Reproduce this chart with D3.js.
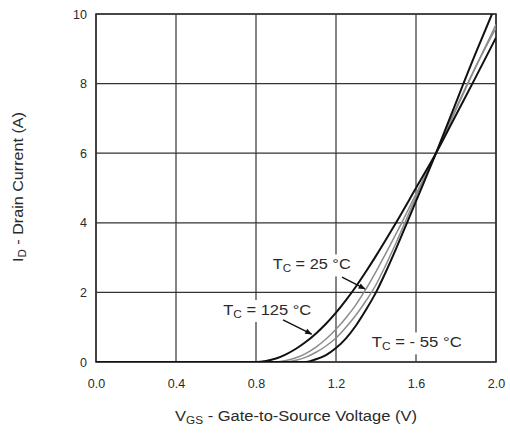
<!DOCTYPE html>
<html>
<head>
<meta charset="utf-8">
<script src="https://cdn.jsdelivr.net/npm/d3@7"></script>
<style>
  body { margin: 0; background: #fff; }
  text { font-family: "Liberation Sans", Arial, sans-serif; fill: #2a2a2a; }
</style>
</head>
<body>
<script>
// axis ticks
var xTicks = [0.0, 0.4, 0.8, 1.2, 1.6, 2.0];
var yTicks = [0, 2, 4, 6, 8, 10];

// transfer curves, [VGS (V), ID (A)]
var tc125 = [[0, 0], [0.8, 0], [0.85, 0.03], [0.9, 0.1], [0.95, 0.22], [1.0, 0.38], [1.05, 0.58],
  [1.1, 0.82], [1.15, 1.1], [1.2, 1.42], [1.25, 1.78], [1.3, 2.17], [1.35, 2.6], [1.4, 3.05],
  [1.5, 4.0], [1.6, 5.0], [1.7, 6.0], [1.8, 7.1], [1.9, 8.2], [2.0, 9.32]];
// the 25 °C curve is printed as a grey double line
var tc25a = [[0, 0], [0.9, 0], [0.95, 0.04], [1.0, 0.12], [1.05, 0.25], [1.1, 0.43], [1.15, 0.66],
  [1.2, 0.94], [1.25, 1.27], [1.3, 1.65], [1.35, 2.1], [1.4, 2.6], [1.5, 3.68], [1.6, 4.83],
  [1.7, 6.0], [1.8, 7.25], [1.9, 8.5], [2.0, 9.7]];
var tc25b = [[0, 0], [0.95, 0], [1.0, 0.05], [1.05, 0.14], [1.1, 0.28], [1.15, 0.46], [1.2, 0.69],
  [1.25, 1.0], [1.3, 1.35], [1.35, 1.76], [1.4, 2.22], [1.45, 2.8], [1.5, 3.42], [1.55, 4.08],
  [1.6, 4.75], [1.7, 6.0], [1.8, 7.3], [1.9, 8.5], [2.0, 9.6]];
var tcm55 = [[0, 0], [1.05, 0], [1.1, 0.08], [1.15, 0.2], [1.2, 0.4], [1.25, 0.68], [1.3, 1.05],
  [1.35, 1.5], [1.4, 2.0], [1.45, 2.6], [1.5, 3.25], [1.555, 4.0], [1.6, 4.62], [1.7, 6.0],
  [1.8, 7.45], [1.837, 8.0], [1.9, 8.9], [1.98, 10.0]];

var width = 510, height = 436;
var margin = {top: 14, right: 14, bottom: 74, left: 96};
var w = width - margin.left - margin.right;   // 400
var h = height - margin.top - margin.bottom;  // 348

var svg = d3.select("body").append("svg")
  .attr("width", width)
  .attr("height", height);

var defs = svg.append("defs");
defs.append("clipPath").attr("id", "plot")
  .append("rect").attr("width", w).attr("height", h);
defs.append("marker")
  .attr("id", "head")
  .attr("viewBox", "0 0 10 10")
  .attr("refX", 9).attr("refY", 5)
  .attr("markerWidth", 9).attr("markerHeight", 7)
  .attr("markerUnits", "userSpaceOnUse")
  .attr("orient", "auto")
  .append("path").attr("d", "M0,1 L10,5 L0,9 Z").attr("fill", "#111");

var g = svg.append("g")
  .attr("transform", "translate(" + margin.left + "," + margin.top + ")");

var x = d3.scaleLinear().domain([0, 2]).range([0, w]);
var y = d3.scaleLinear().domain([0, 10]).range([h, 0]);

// grid
g.selectAll(".vgrid").data(xTicks).enter().append("line")
  .attr("x1", d => x(d)).attr("x2", d => x(d))
  .attr("y1", 0).attr("y2", h)
  .attr("stroke", "#333").attr("stroke-width", 1.2);

g.selectAll(".hgrid").data(yTicks).enter().append("line")
  .attr("x1", 0).attr("x2", w)
  .attr("y1", d => y(d)).attr("y2", d => y(d))
  .attr("stroke", "#333").attr("stroke-width", 1.2);

g.append("rect")
  .attr("width", w).attr("height", h)
  .attr("fill", "none").attr("stroke", "#333").attr("stroke-width", 1.6);

// tick labels
var xAxis = d3.axisBottom(x).tickValues(xTicks).tickSize(0).tickPadding(17)
  .tickFormat(d3.format(".1f"));
var xg = g.append("g").attr("transform", "translate(0," + h + ")").call(xAxis);
xg.select(".domain").remove();
xg.selectAll("text").attr("font-size", 12.5).attr("fill", "#2a2a2a")
  .style("font-family", "'Liberation Sans', Arial, sans-serif");

var yAxis = d3.axisLeft(y).tickValues(yTicks).tickSize(0).tickPadding(9);
var yg = g.append("g").call(yAxis);
yg.select(".domain").remove();
yg.selectAll("text").attr("font-size", 12.5).attr("fill", "#2a2a2a")
  .style("font-family", "'Liberation Sans', Arial, sans-serif");

// axis titles
var xt = svg.append("text")
  .attr("x", 175).attr("y", 421)
  .attr("font-size", 14);
xt.append("tspan").text("V");
xt.append("tspan").attr("font-size", 10).attr("dy", 3).text("GS");
xt.append("tspan").attr("dy", -3).text(" - Gate-to-Source Voltage (V)");
xt.attr("textLength", 242).attr("lengthAdjust", "spacingAndGlyphs");

var yt = svg.append("text")
  .attr("transform", "translate(23,262) rotate(-90)")
  .attr("font-size", 14);
yt.append("tspan").text("I");
yt.append("tspan").attr("font-size", 10).attr("dy", 3).text("D");
yt.append("tspan").attr("dy", -3).text(" - Drain Current (A)");
yt.attr("textLength", 150).attr("lengthAdjust", "spacingAndGlyphs");

// curve labels with white backing
function tcLabel(v, i, temp, len) {
  var lg = g.append("g");
  var bg = lg.append("rect").attr("fill", "#fff");
  var t = lg.append("text").attr("x", x(v)).attr("y", y(i)).attr("font-size", 14);
  t.append("tspan").text("T");
  t.append("tspan").attr("font-size", 10).attr("dy", 3).text("C");
  t.append("tspan").attr("dy", -3).text(" = " + temp + " \u00B0C");
  t.attr("textLength", len).attr("lengthAdjust", "spacingAndGlyphs");
  var b = t.node().getBBox();
  bg.attr("x", b.x - 3).attr("y", b.y - 2)
    .attr("width", b.width + 6).attr("height", b.height + 4);
}
tcLabel(0.8835, 2.66, "25", 78);
tcLabel(0.6365, 1.35, "125", 88);
tcLabel(1.3785, 0.42, "- 55", 90);

// curves
var line = d3.line().x(d => x(d[0])).y(d => y(d[1])).curve(d3.curveMonotoneX);
var curves = g.append("g").attr("clip-path", "url(#plot)");
curves.append("path").datum(tc25a).attr("d", line)
  .attr("fill", "none").attr("stroke", "#8c8c8c").attr("stroke-width", 1.5);
curves.append("path").datum(tc25b).attr("d", line)
  .attr("fill", "none").attr("stroke", "#8c8c8c").attr("stroke-width", 1.5);
curves.append("path").datum(tc125).attr("d", line)
  .attr("fill", "none").attr("stroke", "#111").attr("stroke-width", 2);
curves.append("path").datum(tcm55).attr("d", line)
  .attr("fill", "none").attr("stroke", "#111").attr("stroke-width", 2);

// pointer arrows
function arrow(v1, i1, v2, i2) {
  g.append("line")
    .attr("x1", x(v1)).attr("y1", y(i1))
    .attr("x2", x(v2)).attr("y2", y(i2))
    .attr("stroke", "#111").attr("stroke-width", 1.4)
    .attr("marker-end", "url(#head)");
}
arrow(1.23, 2.44, 1.345, 2.1);
arrow(0.935, 1.21, 1.078, 0.8);
</script>
</body>
</html>
